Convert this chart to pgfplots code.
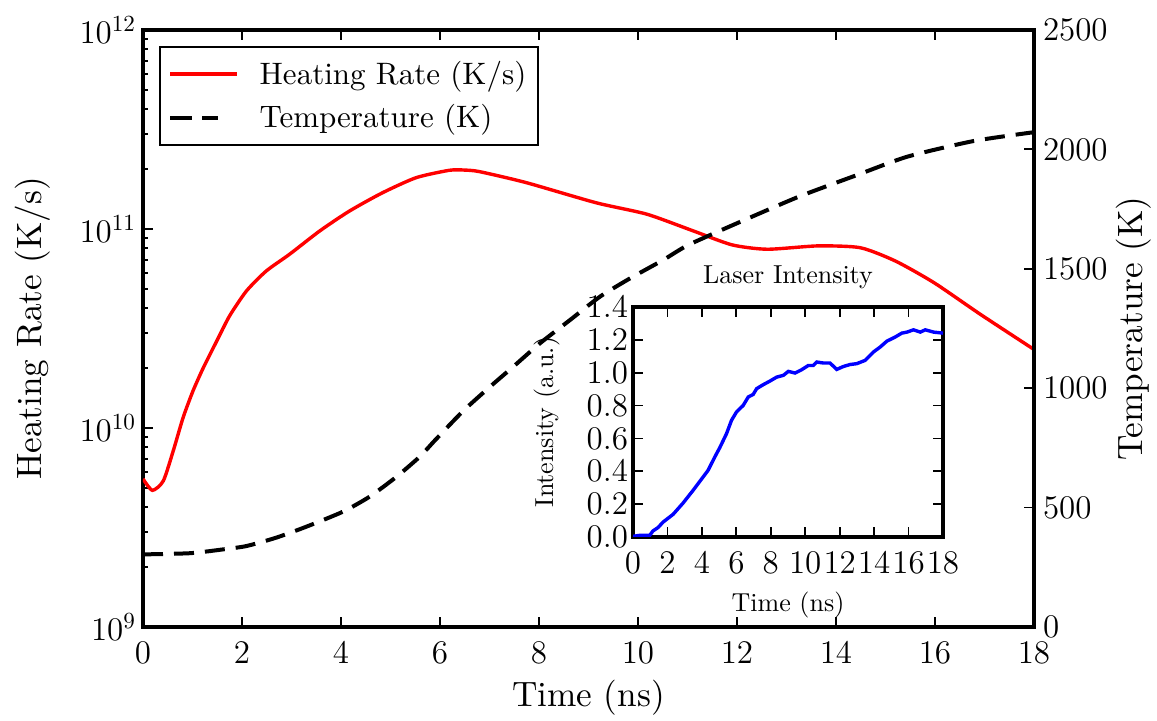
\RequirePackage{fix-cm}
\documentclass[border=0pt]{standalone}
\usepackage{pgfplots}
\pgfplotsset{compat=1.18}
\DeclareFontFamily{TU}{lmten}{}
\DeclareFontShape{TU}{lmten}{m}{n}{<->"[lmroman10-regular]:mapping=tex-text"}{}
\renewcommand{\rmdefault}{lmten}
\begin{document}
\begin{tikzpicture}
\useasboundingbox (-71.5pt,-47pt) rectangle (507pt,313.5pt);
\pgfplotsset{
  every axis/.append style={
    scale only axis,
    axis line style={line width=2pt},
    every tick/.style={black, line width=0.9pt},
    major tick length=5pt,
    minor tick length=2.5pt,
    tick align=inside,
    tick label style={font=\fontsize{16.5}{19}\selectfont},
  },
}
\begin{axis}[
  at={(0pt,0pt)}, anchor=south west,
  width=445.5pt, height=298.5pt,
  xmin=0, xmax=18, ymode=log, ymin=1e9, ymax=1e12,
  xtick={0,2,...,18},
  ytick={1e9,1e10,1e11,1e12},
  xtick pos=both, xticklabel pos=lower,
  ytick pos=left,
  xticklabel style={inner sep=0pt, yshift=-7.5pt},
  xlabel={Time (ns)}, ylabel={Heating Rate (K/s)},
  label style={font=\fontsize{17.6}{21}\selectfont},
  xlabel style={at={(axis description cs:0.5,-0.134)}, anchor=base, inner sep=0pt},
  ylabel style={at={(axis description cs:-0.1134,0.5)}, anchor=base, inner sep=0pt},
  legend image code/.code={\draw[#1] (0pt,0pt) -- (33.5pt,0pt);},
  legend cell align=left,
  legend style={at={(axis description cs:0.018,0.973)}, anchor=north west,
    draw=black, line width=1pt, fill=white,
    font=\fontsize{15.5}{18}\selectfont,
    inner xsep=4pt, inner ysep=5pt, row sep=4.7pt, column sep=8.5pt,
    nodes={inner sep=2pt}},
]
\addplot[red, line width=1.7pt, smooth, tension=0.4] coordinates {
(0,5.55e9) (0.19,4.86e9) (0.41,5.42e9) (0.61,7.66e9) (0.81,1.127e10)
(1.01,1.535e10) (1.22,2.01e10) (1.49,2.735e10) (1.75,3.66e10) (2.09,4.88e10)
(2.49,6.15e10) (2.96,7.46e10) (3.57,9.77e10) (4.17,1.230e11) (4.84,1.521e11)
(5.52,1.811e11) (6.19,1.972e11) (6.49,1.977e11) (6.80,1.941e11) (7.74,1.710e11)
(9.15,1.355e11) (10.18,1.186e11) (11.12,9.77e10) (11.90,8.32e10) (12.61,7.91e10)
(13.63,8.22e10) (14.49,8.05e10) (15.20,6.90e10) (15.98,5.37e10) (16.92,3.72e10)
(18,2.48e10)
};
\addlegendentry{Heating Rate (K/s)}
\addlegendimage{legend image code/.code={\draw[black, line width=2pt, dash pattern=on 11pt off 5pt] (0pt,0pt) -- (24pt,0pt);}}
\addlegendentry{Temperature (K)}
\end{axis}
\begin{axis}[
  at={(0pt,0pt)}, anchor=south west,
  width=445.5pt, height=298.5pt,
  xmin=0, xmax=18, ymin=0, ymax=2500,
  axis x line=none, axis y line*=right,
  ytick={0,500,1000,1500,2000,2500},
  yticklabel style={/pgf/number format/1000 sep={}, xshift=1pt},
  ylabel={Temperature (K)},
  ylabel style={at={(axis description cs:1.1223,0.5)}, anchor=base, inner sep=0pt, font=\fontsize{17.6}{21}\selectfont},
]
\addplot[black, line width=2pt, dash pattern=on 10pt off 5.5pt, smooth, tension=0.4] coordinates {
(0,304) (0.95,309) (1.62,325) (2.09,339) (2.69,374) (3.30,420) (4.04,483)
(4.58,546) (5.12,629) (5.59,713) (5.9,782) (6.47,905) (7.01,1006) (7.48,1090)
(8.02,1188) (8.63,1286) (9.23,1383) (9.84,1460) (10.51,1537) (11.02,1600)
(12.07,1697) (13.25,1802) (14.43,1893) (15.45,1970) (16.78,2035) (18,2072)
};
\end{axis}
\begin{axis}[
  at={(245pt,45pt)}, anchor=south west,
  width=155pt, height=115pt,
  xmin=0, xmax=18, ymin=0, ymax=1.4,
  xtick={0,2,...,18}, ytick={0,0.2,0.4,0.6,0.8,1.0,1.2,1.4},
  axis background/.style={fill=white},
  xticklabel style={inner sep=0pt, yshift=-7.5pt},
  yticklabel style={/pgf/number format/fixed, /pgf/number format/fixed zerofill, /pgf/number format/precision=1, xshift=1pt},
  title={Laser Intensity},
  title style={at={(axis description cs:0.5,1.052)}, anchor=base, inner sep=0pt, font=\fontsize{13}{15}\selectfont},
  xlabel={Time (ns)}, ylabel={Intensity (a.u.)},
  label style={font=\fontsize{13}{15}\selectfont},
  xlabel style={at={(axis description cs:0.5,-0.325)}, anchor=base, inner sep=0pt},
  ylabel style={at={(axis description cs:-0.258,0.5)}, anchor=base, inner sep=0pt},
]
\addplot[blue, line width=1.7pt] coordinates {
(0,0.004) (0.39,0.01) (0.97,0.01) (1.16,0.037) (1.45,0.057) (1.75,0.091)
(2.33,0.138) (2.91,0.207) (3.49,0.284) (4.07,0.365) (4.36,0.406) (4.75,0.487)
(5.04,0.544) (5.43,0.629) (5.72,0.710) (6.01,0.761) (6.40,0.801) (6.69,0.852)
(6.98,0.868) (7.18,0.903) (7.56,0.927) (7.95,0.949) (8.34,0.973) (8.73,0.984)
(9.02,1.008) (9.41,0.998) (9.79,1.018) (10.18,1.044) (10.47,1.044) (10.67,1.065)
(11.06,1.059) (11.44,1.059) (11.83,1.020) (12.22,1.038) (12.61,1.050) (12.99,1.055)
(13.48,1.075) (13.96,1.126) (14.35,1.156) (14.74,1.192) (15.22,1.217) (15.61,1.241)
(15.90,1.247) (16.29,1.261) (16.68,1.247) (16.97,1.261) (17.46,1.247) (18,1.241)
};
\end{axis}
\end{tikzpicture}
\end{document}
